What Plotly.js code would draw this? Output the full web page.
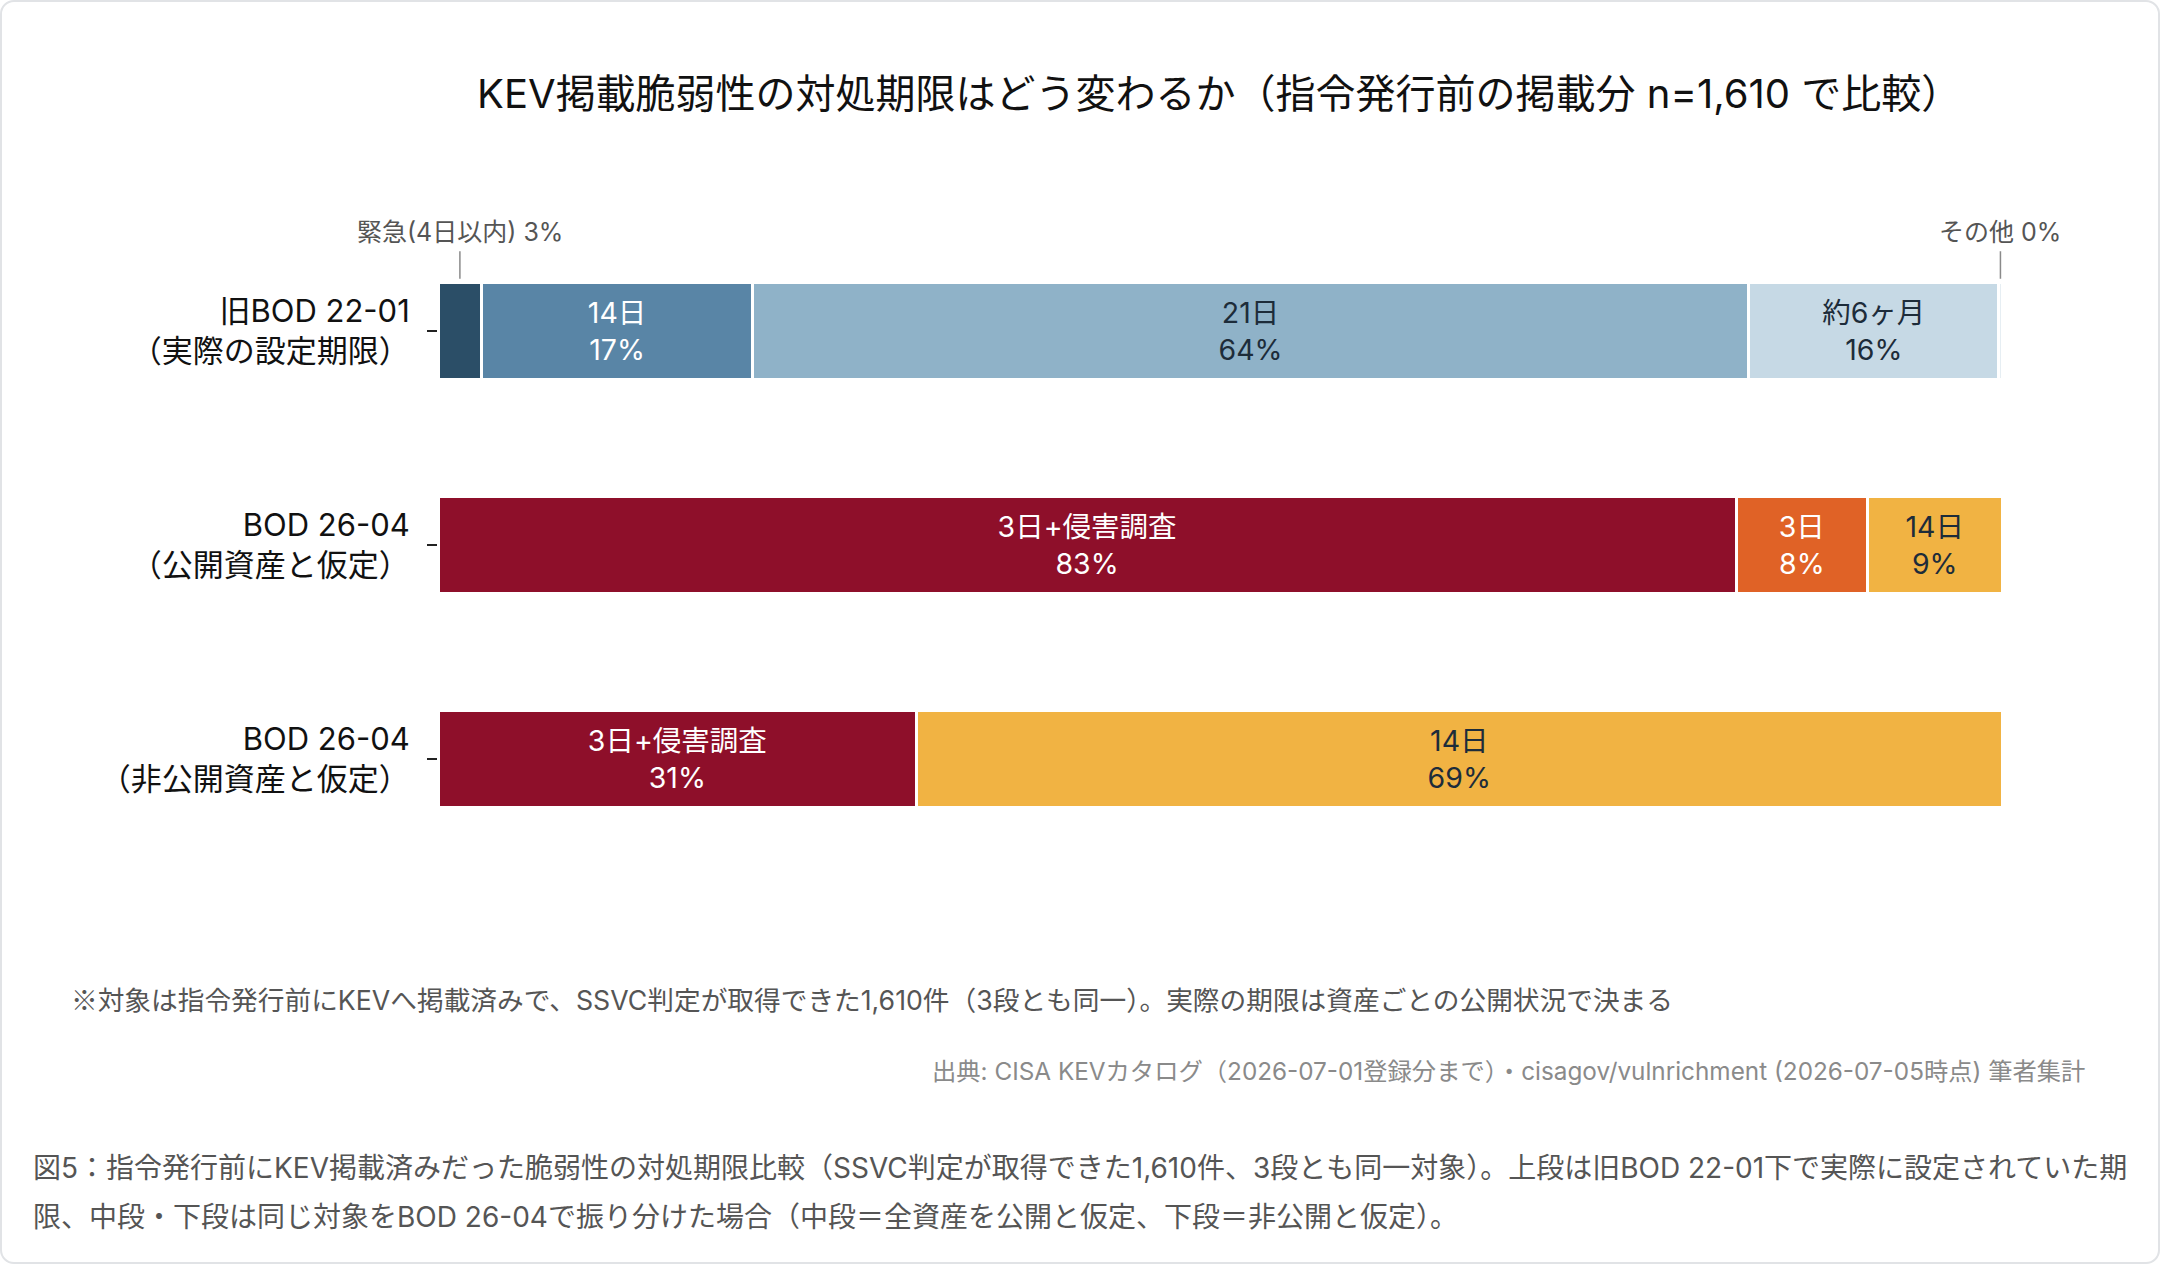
<!DOCTYPE html>
<html>
<head>
<meta charset="utf-8">
<script src="https://cdn.plot.ly/plotly-3.0.1.min.js"></script>
<style>
  html, body { margin: 0; padding: 0; background: #ffffff; }
  #card { position: relative; width: 2160px; height: 1264px; box-sizing: border-box;
          border: 2px solid #e1e3e6; border-radius: 14px; overflow: hidden; background: #fff; }
  #chart { position: absolute; left: -2px; top: -2px; width: 2160px; height: 1264px; }
</style>
</head>
<body>
<div id="card"><div id="chart"></div></div>
<script>
// ---- data ----
const categories = ['旧BOD 22-01<br>（実際の設定期限）', 'BOD 26-04<br>（公開資産と仮定）', 'BOD 26-04<br>（非公開資産と仮定）'];

const segmentNames = ['緊急(4日以内)', '14日', '21日', '約6ヶ月', 'その他', '3日+侵害調査', '3日', '14日'];

// percent of n=1,610 in each row
const oldEmergency = [2.8, null, null];
const old14days    = [17.3, null, null];
const old21days    = [63.7, null, null];
const old6months   = [16.0, null, null];
const oldOther     = [0.2, null, null];
const new3daysPlus = [null, 83.0, 30.6];
const new3days     = [null, 8.4, null];
const new14days    = [null, 8.6, 69.4];

const titleText = 'KEV掲載脆弱性の対処期限はどう変わるか（指令発行前の掲載分 n=1,610 で比較）';
const noteText = '<span style="font-family:\'Noto Sans CJK JP\'">※</span>対象は指令発行前にKEVへ掲載済みで、SSVC判定が取得できた1,610件（3段とも同一）。実際の期限は資産ごとの公開状況で決まる';
const sourceText = '出典: CISA KEVカタログ（2026-07-01登録分まで）・cisagov/vulnrichment (2026-07-05時点) 筆者集計';
const captionLine1 = '図5：指令発行前にKEV掲載済みだった脆弱性の対処期限比較（SSVC判定が取得できた1,610件、3段とも同一対象）。上段は旧BOD 22-01下で実際に設定されていた期';
const captionLine2 = '限、中段・下段は同じ対象をBOD 26-04で振り分けた場合（中段＝全資産を公開と仮定、下段＝非公開と仮定）。';

// ---- styles ----
const FONT = 'Inter, "Noto Sans CJK JP", sans-serif';
const series = [
  {values: oldEmergency, name: segmentNames[0], color: '#2b4e67', text: '#ffffff', inside: false},
  {values: old14days,    name: segmentNames[1], color: '#5985a6', text: '#ffffff', inside: true},
  {values: old21days,    name: segmentNames[2], color: '#8fb2c8', text: '#1d2c3a', inside: true},
  {values: old6months,   name: segmentNames[3], color: '#c6d9e5', text: '#1d2c3a', inside: true},
  {values: oldOther,     name: segmentNames[4], color: '#e6eef3', text: '#1d2c3a', inside: false},
  {values: new3daysPlus, name: segmentNames[5], color: '#8e0f2a', text: '#ffffff', inside: true},
  {values: new3days,     name: segmentNames[6], color: '#e06226', text: '#ffffff', inside: true},
  {values: new14days,    name: segmentNames[7], color: '#f1b343', text: '#1d2c3a', inside: true}
];

const traces = series.map(s => ({
  type: 'bar',
  orientation: 'h',
  y: categories,
  x: s.values,
  name: s.name,
  marker: {color: s.color, line: {color: '#ffffff', width: 3}},
  text: s.values.map(v => (v === null || !s.inside) ? '' : s.name + '<br>' + Math.round(v) + '%'),
  textposition: 'inside',
  insidetextanchor: 'middle',
  textangle: 0,
  textfont: {family: FONT, size: 28.5, color: s.text},
  hoverinfo: 'skip',
  showlegend: false
}));

// outside labels for the tiny segments (row 0)
function segCenter(idx) {
  let start = 0;
  for (let i = 0; i < idx; i++) start += (series[i].values[0] || 0);
  return start + series[idx].values[0] / 2;
}
const calloutIdx = [0, 4];
const annotations = calloutIdx.map(i => ({
  x: segCenter(i), y: -0.235, xref: 'x', yref: 'y',
  text: series[i].name + ' ' + Math.round(series[i].values[0]) + '%',
  showarrow: true, arrowhead: 0, arrowwidth: 1.5, arrowcolor: '#8a8a8a',
  ax: 0, ay: -49, standoff: 2, borderpad: 4,
  font: {family: FONT, size: 25, color: '#555555'}
}));

const L = 438, R = 158, T = 224, B = 398, H = 1264;
const plotH = H - T - B, plotW = 2160 - L - R;
const px2x = p => (p - L) / plotW;
const py2y = p => (H - B - p) / plotH;

annotations.push(
  {xref: 'paper', yref: 'paper', x: px2x(69), y: py2y(998), xanchor: 'left', yanchor: 'middle',
   text: noteText, showarrow: false, font: {family: FONT, size: 26.7, color: '#555555'}},
  {xref: 'paper', yref: 'paper', x: px2x(2087), y: py2y(1071), xanchor: 'right', yanchor: 'middle',
   text: sourceText, showarrow: false, font: {family: FONT, size: 24.3, color: '#8a8a8a'}},
  {xref: 'paper', yref: 'paper', x: px2x(31), y: py2y(1168), xanchor: 'left', yanchor: 'middle',
   text: captionLine1, showarrow: false, font: {family: FONT, size: 28, color: '#555555'}},
  {xref: 'paper', yref: 'paper', x: px2x(31), y: py2y(1217), xanchor: 'left', yanchor: 'middle',
   text: captionLine2, showarrow: false, font: {family: FONT, size: 28, color: '#555555'}}
);

const layout = {
  width: 2160, height: 1264,
  margin: {l: L, r: R, t: T, b: B, pad: 0},
  paper_bgcolor: 'rgba(0,0,0,0)', plot_bgcolor: 'rgba(0,0,0,0)',
  barmode: 'stack',
  bargap: 0.547,
  title: {text: titleText, xref: 'paper', x: 0.4995, xanchor: 'center',
          yref: 'container', y: 1 - 94 / 1264, yanchor: 'middle',
          font: {family: FONT, size: 40, color: '#111111'}},
  xaxis: {range: [0, 100], showgrid: false, zeroline: false, showline: false,
          showticklabels: false, ticks: '', fixedrange: true},
  yaxis: {type: 'category', autorange: 'reversed', showgrid: false, zeroline: false, showline: false,
          ticks: 'outside', ticklen: 10, tickwidth: 2, tickcolor: '#222222',
          ticklabelstandoff: 11,
          tickfont: {family: FONT, size: 31, color: '#111111'}, fixedrange: true},
  annotations: annotations,
  hovermode: false,
  uniformtext: {mode: false}
};

Plotly.newPlot('chart', traces, layout, {displayModeBar: false, staticPlot: true});
</script>
</body>
</html>
